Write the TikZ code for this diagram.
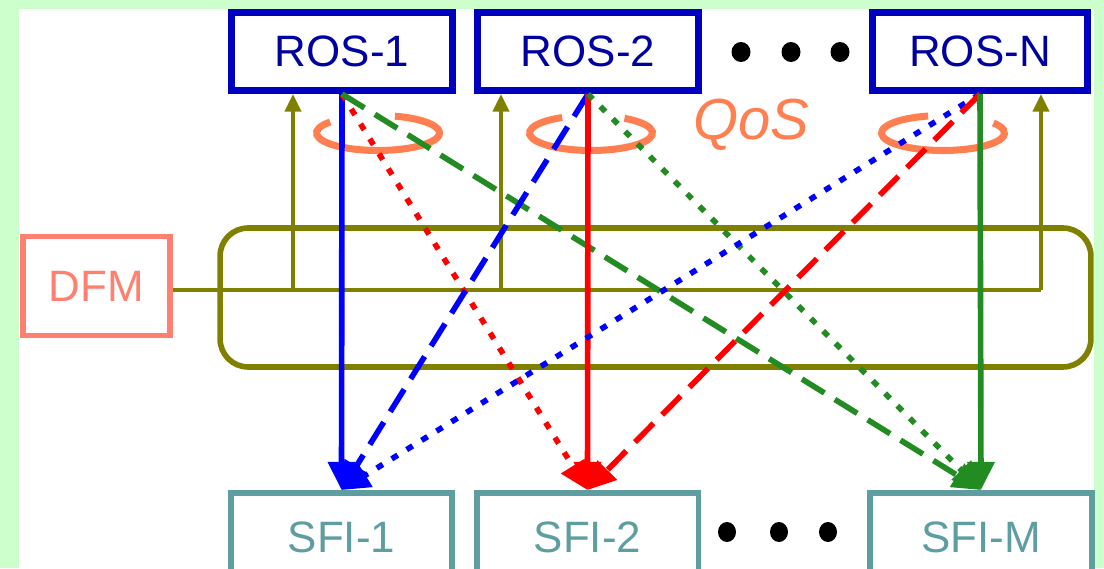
\documentclass[tikz,border=0pt]{standalone}
\usepackage{fontspec}
\setmainfont{Liberation Sans}
\usetikzlibrary{arrows.meta,calc,positioning}
\definecolor{bggreen}{HTML}{CCFFCC}
\definecolor{rosblue}{HTML}{0000C0}
\definecolor{rostext}{HTML}{0000A0}
\definecolor{sficol}{HTML}{5F9EA0}
\definecolor{dfmcol}{HTML}{FF8070}
\definecolor{qoscol}{HTML}{FF7F50}
\definecolor{busolive}{HTML}{808000}
\definecolor{fgreen}{HTML}{228B22}
\tikzset{
    ros/.style={draw=rosblue, line width=4pt, fill=white, minimum width=4.42cm, minimum height=1.56cm, inner sep=0pt, text=rostext, font=\fontsize{25}{30}\selectfont},
    sfi/.style={draw=sficol, line width=3.4pt, fill=white, minimum width=4.44cm, minimum height=1.76cm, inner sep=0pt, text=sficol, font=\fontsize{25}{30}\selectfont},
    dfm/.style={draw=dfmcol, line width=3.4pt, fill=white, minimum width=2.94cm, minimum height=1.98cm, inner sep=0pt, text=dfmcol, font=\fontsize{25}{30}\selectfont},
    fabric/.style={draw=busolive, line width=3.2pt, rounded corners=0.56cm, minimum width=17.42cm, minimum height=2.78cm},
    bus/.style={busolive, line width=2.4pt},
    tap/.style={bus, -{Triangle[length=10pt,width=9pt]}},
    qos/.style={qoscol, line width=4pt},
    qoslabel/.style={text=qoscol, inner sep=0pt, font=\itshape\fontsize{33}{38}\selectfont},
    link/.style={line width=3.2pt, -{Triangle[length=16pt,width=15pt]}},
    dashlink/.style={link, dash pattern=on 15pt off 7pt},
    dotlink/.style={link, dash pattern=on 4pt off 6pt}
}
\begin{document}
\begin{tikzpicture}[x=0.02cm, y=0.02cm]
    \useasboundingbox (0,0) rectangle (1104,568);
    \clip (0,0) rectangle (1104,568);
    \fill[bggreen] (0,0) rectangle (1104,568);
    \fill[white] (19,0) rectangle (1094,559);

    % Switching fabric
    \node[fabric] (fabric) at (655.5,270.5) {};

    % Output side
    \node[ros] (ros1) at (342,516.5) {ROS-1};
    \node[ros] (ros2) at (588,516.5) {ROS-2};
    \node[ros, minimum width=4.3cm] (rosN) at (980,516.5) {ROS-N};

    % Input side
    \node[sfi] (sfi1) at (341.5,31) {SFI-1};
    \node[sfi] (sfi2) at (587.5,31) {SFI-2};
    \node[sfi] (sfiM) at (981,31) {SFI-M};

    % Controller
    \node[dfm] (dfm) at (96.5,282) {DFM};

    \node[qoslabel] (qos) at (751.5,443) {QoS};

    % Ellipsis dots
    \foreach \x in {741,791,840}
        \fill (\x,516) ellipse [x radius=0.19cm, y radius=0.2cm];
    \foreach \x in {727,779,828}
        \fill (\x,36) ellipse [x radius=0.18cm, y radius=0.2cm];

    % Control bus
    \coordinate (tap1) at (293,278);
    \coordinate (tap2) at (501,278);
    \coordinate (busend) at (1041,278);
    \draw[bus] (dfm.east |- busend) -- (busend);
    \draw[tap] (tap1) -- (tap1 |- ros1.south);
    \draw[tap] (tap2) -- (tap2 |- ros2.south);
    \draw[tap] (busend) -- (busend |- rosN.south);

    % QoS rings
    \coordinate (ring1) at (378,435);
    \coordinate (ring2) at (591,435);
    \coordinate (ringN) at (943,435);
    \draw[qos] (ring1) ++(141:1.23cm and 0.35cm) arc[start angle=141, end angle=434, x radius=1.23cm, y radius=0.35cm];
    \draw[qos] (ring2) ++(118:1.23cm and 0.35cm) arc[start angle=118, end angle=417, x radius=1.23cm, y radius=0.35cm];
    \draw[qos] (ringN) ++(104:1.23cm and 0.35cm) arc[start angle=104, end angle=395, x radius=1.23cm, y radius=0.35cm];

    % Connections
    \draw[link, blue] (ros1.south) -- (sfi1.north);
    \draw[dotlink, red] (ros1.south) -- (sfi2.north);
    \draw[dashlink, fgreen] (ros1.south) -- (sfiM.north);
    \draw[dashlink, blue] (ros2.south) -- (sfi1.north);
    \draw[link, red] (ros2.south) -- (sfi2.north);
    \draw[dotlink, fgreen] (ros2.south) -- (sfiM.north);
    \draw[dotlink, blue] (rosN.south) -- (sfi1.north);
    \draw[dashlink, red] (rosN.south) -- (sfi2.north);
    \draw[link, fgreen] (rosN.south) -- (sfiM.north);
\end{tikzpicture}
\end{document}
